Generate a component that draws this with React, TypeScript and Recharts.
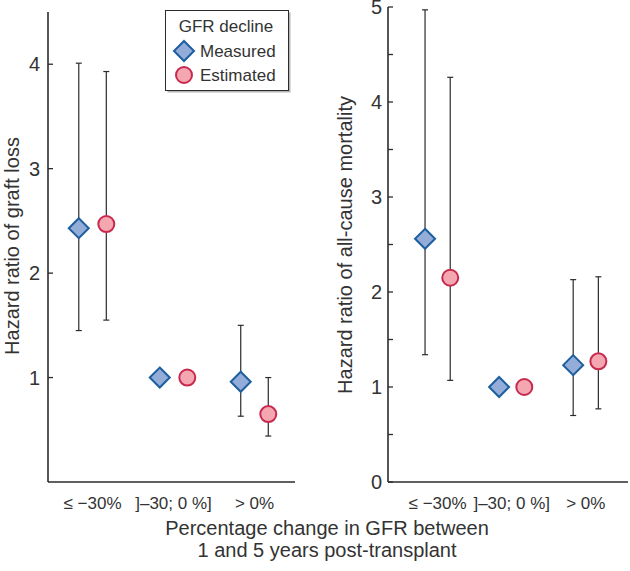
import React from 'react';
import { ScatterChart, Scatter, XAxis, YAxis, ErrorBar } from 'recharts';

// ---- data ----
const categories = ['≤ −30%', ']–30; 0 %]', '> 0%'];

const graftMeasured = [2.43, 1.0, 0.96];
const graftMeasuredLow = [1.45, 1.0, 0.63];
const graftMeasuredHigh = [4.01, 1.0, 1.5];
const graftEstimated = [2.47, 1.0, 0.65];
const graftEstimatedLow = [1.55, 1.0, 0.44];
const graftEstimatedHigh = [3.93, 1.0, 1.0];

const mortMeasured = [2.56, 1.0, 1.23];
const mortMeasuredLow = [1.34, 1.0, 0.7];
const mortMeasuredHigh = [4.97, 1.0, 2.13];
const mortEstimated = [2.15, 1.0, 1.27];
const mortEstimatedLow = [1.07, 1.0, 0.77];
const mortEstimatedHigh = [4.26, 1.0, 2.16];

const graftTicks = [1, 2, 3, 4];
const mortTicks = [0, 0.5, 1, 1.5, 2, 2.5, 3, 3.5, 4, 4.5, 5];

const legendTitle = 'GFR decline';
const seriesNames = ['Measured', 'Estimated'];
const yTitleLeft = 'Hazard ratio of graft loss';
const yTitleRight = 'Hazard ratio of all-cause mortality';
const xTitleLines = ['Percentage change in GFR between', '1 and 5 years post-transplant'];

// ---- styles ----
const FONT = '"Liberation Sans", Arial, sans-serif';
const TEXT = '#333333';
const AXIS = '#2b2b2b';
const M_FILL = '#93acd8';
const M_STROKE = '#1d5e9e';
const E_FILL = '#f4a7b0';
const E_STROKE = '#c72a4e';
const OFFSET = 0.17;

const build = (vals: number[], lows: number[], highs: number[], shift: number) =>
  vals.map((v, i) => ({ x: i + 1 + shift, y: v, err: [v - lows[i], highs[i] - v] }));

const Diamond = (props: any) => {
  const { cx, cy } = props;
  const r = 10;
  return (
    <path
      d={`M${cx},${cy - r}L${cx + r},${cy}L${cx},${cy + r}L${cx - r},${cy}Z`}
      fill={M_FILL}
      stroke={M_STROKE}
      strokeWidth={2}
    />
  );
};

const Dot = (props: any) => {
  const { cx, cy } = props;
  return <circle cx={cx} cy={cy} r={8} fill={E_FILL} stroke={E_STROKE} strokeWidth={2} />;
};

const makeYTick = (margin: number, showAll: boolean) => (props: any) => {
  const { x, y, payload } = props;
  const v = payload.value;
  const isInt = Number.isInteger(v);
  return (
    <g>
      <line x1={x + margin} x2={x + margin + 5} y1={y} y2={y} stroke={AXIS} strokeWidth={1.3} />
      {(showAll || isInt) && (
        <text x={x} y={y} dy="0.36em" textAnchor="end" fontSize={20} fill={TEXT} fontFamily={FONT}>
          {v}
        </text>
      )}
    </g>
  );
};

const Panel = (props: {
  left: number;
  width: number;
  yWidth: number;
  top: number;
  right: number;
  domainY: [number, number];
  ticksY: number[];
  domainX: [number, number];
  measured: any[];
  estimated: any[];
  tickMargin: number;
}) => {
  const { left, width, yWidth, top, right, domainY, ticksY, domainX, measured, estimated, tickMargin } = props;
  return (
    <div style={{ position: 'absolute', left, top: 0 }}>
      <ScatterChart width={width} height={571} margin={{ top, right, bottom: 59, left: 0 }}>
        <XAxis
          type="number"
          dataKey="x"
          domain={domainX}
          ticks={[1, 2, 3]}
          tickFormatter={(v: number) => categories[v - 1] ?? ''}
          tickLine={false}
          tickSize={0}
          tickMargin={15}
          height={30}
          interval={0}
          allowDataOverflow
          axisLine={{ stroke: AXIS, strokeWidth: 1.6 }}
          tick={{ fontSize: 17, fill: TEXT, fontFamily: FONT }}
        />
        <YAxis
          type="number"
          dataKey="y"
          domain={domainY}
          ticks={ticksY}
          interval={0}
          width={yWidth}
          allowDataOverflow
          tickLine={false}
          tickSize={0}
          tickMargin={tickMargin}
          axisLine={{ stroke: AXIS, strokeWidth: 1.6 }}
          tick={makeYTick(tickMargin, false)}
        />
        <Scatter data={measured} shape={Diamond} isAnimationActive={false}>
          <ErrorBar dataKey="err" direction="y" width={3} stroke={AXIS} strokeWidth={1.2} />
        </Scatter>
        <Scatter data={estimated} shape={Dot} isAnimationActive={false}>
          <ErrorBar dataKey="err" direction="y" width={3} stroke={AXIS} strokeWidth={1.2} />
        </Scatter>
      </ScatterChart>
    </div>
  );
};

export default function App() {
  const gM = build(graftMeasured, graftMeasuredLow, graftMeasuredHigh, -OFFSET);
  const gE = build(graftEstimated, graftEstimatedLow, graftEstimatedHigh, OFFSET);
  const mM = build(mortMeasured, mortMeasuredLow, mortMeasuredHigh, -OFFSET);
  const mE = build(mortEstimated, mortEstimatedLow, mortEstimatedHigh, OFFSET);

  return (
    <div
      style={{
        position: 'absolute',
        left: 0,
        top: 0,
        width: 630,
        height: 571,
        background: '#fff',
        fontFamily: FONT,
      }}
    >
      <Panel
        left={0}
        width={300}
        yWidth={48}
        top={12}
        right={5}
        domainY={[0, 4.5]}
        ticksY={graftTicks}
        domainX={[0.45, 3.5]}
        measured={gM}
        estimated={gE}
        tickMargin={8}
      />
      <Panel
        left={330}
        width={300}
        yWidth={58}
        top={7}
        right={2}
        domainY={[0, 5]}
        ticksY={mortTicks}
        domainX={[0.33, 3.57]}
        measured={mM}
        estimated={mE}
        tickMargin={6}
      />
      <svg
        width={630}
        height={571}
        style={{ position: 'absolute', left: 0, top: 0, pointerEvents: 'none' }}
        fontFamily={FONT}
      >
        <text transform="translate(19,246) rotate(-90)" textAnchor="middle" fontSize={20} fill={TEXT}>
          {yTitleLeft}
        </text>
        <text transform="translate(352,245) rotate(-90)" textAnchor="middle" fontSize={20} fill={TEXT}>
          {yTitleRight}
        </text>
        <text x={327} y={535} textAnchor="middle" fontSize={20} fill={TEXT}>
          {xTitleLines[0]}
        </text>
        <text x={327} y={557} textAnchor="middle" fontSize={20} fill={TEXT}>
          {xTitleLines[1]}
        </text>
        {/* legend */}
        <rect x={167.5} y={12.5} width={123} height={80} fill="#b5b5b5" />
        <rect x={165.5} y={10.5} width={123} height={80} fill="#fff" stroke={AXIS} strokeWidth={1} />
        <text x={226} y={32} textAnchor="middle" fontSize={17} fill={TEXT}>
          {legendTitle}
        </text>
        <Diamond cx={184} cy={51} />
        <text x={200} y={57} fontSize={17} fill={TEXT}>
          {seriesNames[0]}
        </text>
        <Dot cx={184} cy={75} />
        <text x={200} y={80.5} fontSize={17} fill={TEXT}>
          {seriesNames[1]}
        </text>
      </svg>
    </div>
  );
}
